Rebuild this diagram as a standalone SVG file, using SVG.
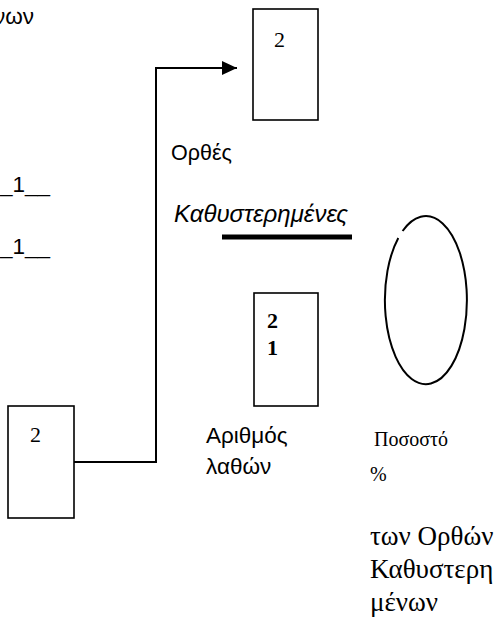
<svg xmlns="http://www.w3.org/2000/svg" width="498" height="619" viewBox="0 0 498 619">
<defs>
<marker id="arr" markerWidth="16" markerHeight="16" refX="15" refY="8" orient="auto" markerUnits="userSpaceOnUse">
<path d="M0,1 L15,8 L0,15 Z" fill="#000"/>
</marker>
<style>
.box{fill:#fff;stroke:#000;stroke-width:1.6}
.sans{font-family:"Liberation Sans",Arial,sans-serif;font-size:22.5px;fill:#000}
.serif{font-family:"Liberation Serif","Times New Roman",serif;font-size:22px;fill:#000}
.small{font-size:20px}
.big{font-size:27px}
.line{fill:none;stroke:#000;stroke-width:2}
</style>
</defs>
<rect width="498" height="619" fill="#fff"/>
<g id="labels-left">
<text class="sans" x="-6" y="24">νων</text>
<text class="sans" x="0" y="192">_1__</text>
<text class="sans" x="0" y="254">_1__</text>
</g>
<g id="connectors">
<polyline class="line" points="74,462 156,462 156,68 237,68" marker-end="url(#arr)"/>
<line x1="222" y1="237" x2="352" y2="237" stroke="#000" stroke-width="5"/>
</g>
<g id="box-top">
<rect class="box" x="253" y="9" width="65" height="111"/>
<text class="serif" x="274" y="47">2</text>
</g>
<g id="labels-mid">
<text class="sans" x="171" y="160" style="font-size:21.5px">Ορθές</text>
<text class="sans" x="174" y="222" style="font-size:24px;font-style:italic">Καθυστερημένες</text>
</g>
<g id="ellipse">
<path d="M398.3,238 A41,84 0 1 0 402.6,231" fill="none" stroke="#000" stroke-width="2"/>
</g>
<g id="box-mid">
<rect class="box" x="254" y="293" width="64" height="113"/>
<text class="serif" x="267" y="328" font-weight="bold">2</text>
<text class="serif" x="267" y="355" font-weight="bold">1</text>
</g>
<g id="box-bottom">
<rect class="box" x="8" y="406" width="66" height="112"/>
<text class="serif" x="30" y="442">2</text>
</g>
<g id="label-errors">
<text class="sans" x="206" y="443">Αριθμός</text>
<text class="sans" x="206" y="474">λαθών</text>
</g>
<g id="label-percent">
<text class="serif small" x="369" y="446" xml:space="preserve"> Ποσοστό</text>
<text class="serif small" x="370" y="481">%</text>
<text class="serif big" x="370" y="545">των Ορθών</text>
<text class="serif big" x="370" y="578">Καθυστερη</text>
<text class="serif big" x="370" y="611">μένων</text>
</g>
</svg>
